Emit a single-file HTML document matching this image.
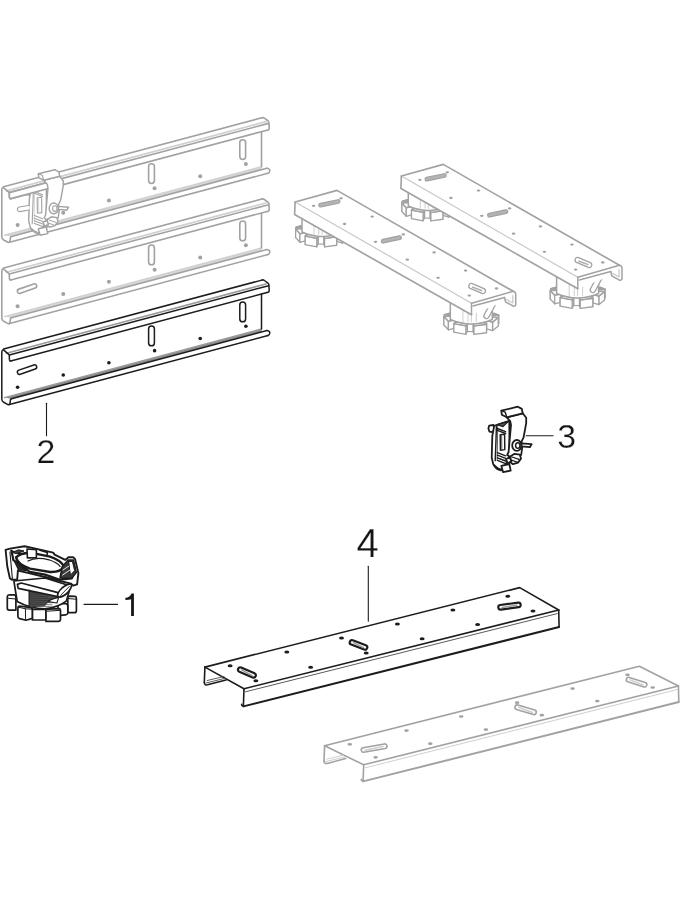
<!DOCTYPE html>
<html><head><meta charset="utf-8"><style>
html,body{margin:0;padding:0;background:#fff;} body{position:relative;width:680px;height:900px;overflow:hidden;}
svg{display:block;}
</style></head><body>
<svg width="680" height="900" viewBox="0 0 680 900" stroke-linejoin="round" stroke-linecap="round">
<rect width="680" height="900" fill="#fff"/>
<line x1="3.6" y1="349.04" x2="261.8" y2="280.1" stroke="#1c1c1c" stroke-width="1.5" stroke-linecap="round"/>
<line x1="6.5" y1="353.26" x2="266" y2="283.98" stroke="#9a9a9a" stroke-width="1.6500000000000001" stroke-linecap="round"/>
<line x1="9.3" y1="354.92" x2="268.6" y2="285.68" stroke="#1c1c1c" stroke-width="1.5" stroke-linecap="round"/>
<line x1="10.8" y1="360.92" x2="267" y2="292.51" stroke="#1c1c1c" stroke-width="1.5" stroke-linecap="round"/>
<polygon points="4.5,397.8 261.5,329.18 261.5,331.98 11.5,398.73" stroke="none" stroke-width="0" fill="#8a8a8a"/>
<line x1="4.5" y1="397.6" x2="261.5" y2="328.98" stroke="#9a9a9a" stroke-width="1.35" stroke-linecap="round"/>
<line x1="11.5" y1="398.73" x2="267" y2="330.51" stroke="#1c1c1c" stroke-width="1.5" stroke-linecap="round"/>
<line x1="9.5" y1="404.56" x2="268" y2="335.54" stroke="#1c1c1c" stroke-width="1.5" stroke-linecap="round"/>
<path d="M10.8,360.92 Q9.5,361.24 9.4,359.24 L9.3,354.92 L3.2,349.6 Q1.8,350.2 1.8,352 L1.8,399 Q1.8,401 3.3,402 L8.4,404.86 Q10,404.56 10.2,402.43 L10.4,399.82 Q10.6,398.73 11.5,398.73" stroke="#1c1c1c" stroke-width="1.5" fill="none" />
<path d="M261.8,280.1 Q263.2,279.5 264.4,280.5 L268.2,283.3 Q269.2,284.3 269,286.68 L269.2,290.51 Q269.2,292.51 267,292.51" stroke="#1c1c1c" stroke-width="1.5" fill="none" />
<line x1="261.5" y1="293.98" x2="261.5" y2="328.98" stroke="#1c1c1c" stroke-width="1.5" />
<path d="M267,330.51 Q270,331.01 269.8,333.03 Q269.6,335.34 268,335.54" stroke="#1c1c1c" stroke-width="1.5" fill="none" />
<ellipse cx="17.6" cy="387.2" rx="1.8" ry="1.8" fill="#1c1c1c"/>
<ellipse cx="63.26" cy="375.01" rx="1.8" ry="1.8" fill="#1c1c1c"/>
<ellipse cx="108.92" cy="362.82" rx="1.8" ry="1.8" fill="#1c1c1c"/>
<ellipse cx="154.58" cy="350.63" rx="1.8" ry="1.8" fill="#1c1c1c"/>
<ellipse cx="200.24" cy="338.44" rx="1.8" ry="1.8" fill="#1c1c1c"/>
<ellipse cx="245.9" cy="326.24" rx="1.8" ry="1.8" fill="#1c1c1c"/>
<rect x="148.6" y="326" width="5.8" height="19.8" rx="2.9" ry="2.9" stroke="#1c1c1c" stroke-width="1.5" fill="none"/>
<rect x="239.8" y="302" width="5.8" height="19.8" rx="2.9" ry="2.9" stroke="#1c1c1c" stroke-width="1.5" fill="none"/>
<path d="M20.32,374.28 L35.22,369.08 A2.2,2.2 0 0 0 33.78,364.92 L18.88,370.12 A2.2,2.2 0 0 0 20.32,374.28 Z" stroke="#1c1c1c" stroke-width="1.5" fill="none" />
<line x1="3.6" y1="268.04" x2="261.8" y2="199.1" stroke="#a2a2a2" stroke-width="1.6" stroke-linecap="round"/>
<line x1="6.5" y1="272.26" x2="266" y2="202.98" stroke="#d0d0d0" stroke-width="1.7600000000000002" stroke-linecap="round"/>
<line x1="9.3" y1="273.92" x2="268.6" y2="204.68" stroke="#a2a2a2" stroke-width="1.6" stroke-linecap="round"/>
<line x1="10.8" y1="279.92" x2="267" y2="211.51" stroke="#a2a2a2" stroke-width="1.6" stroke-linecap="round"/>
<polygon points="4.5,316.8 261.5,248.18 261.5,250.98 11.5,317.73" stroke="none" stroke-width="0" fill="#d6d6d6"/>
<line x1="4.5" y1="316.6" x2="261.5" y2="247.98" stroke="#d0d0d0" stroke-width="1.4400000000000002" stroke-linecap="round"/>
<line x1="11.5" y1="317.73" x2="267" y2="249.51" stroke="#a2a2a2" stroke-width="1.6" stroke-linecap="round"/>
<line x1="9.5" y1="323.56" x2="268" y2="254.54" stroke="#a2a2a2" stroke-width="1.6" stroke-linecap="round"/>
<path d="M10.8,279.92 Q9.5,280.24 9.4,278.24 L9.3,273.92 L3.2,268.6 Q1.8,269.2 1.8,271 L1.8,318 Q1.8,320 3.3,321 L8.4,323.86 Q10,323.56 10.2,321.43 L10.4,318.82 Q10.6,317.73 11.5,317.73" stroke="#a2a2a2" stroke-width="1.6" fill="none" />
<path d="M261.8,199.1 Q263.2,198.5 264.4,199.5 L268.2,202.3 Q269.2,203.3 269,205.68 L269.2,209.51 Q269.2,211.51 267,211.51" stroke="#a2a2a2" stroke-width="1.6" fill="none" />
<line x1="261.5" y1="212.98" x2="261.5" y2="247.98" stroke="#a2a2a2" stroke-width="1.6" />
<path d="M267,249.51 Q270,250.01 269.8,252.03 Q269.6,254.34 268,254.54" stroke="#a2a2a2" stroke-width="1.6" fill="none" />
<ellipse cx="17.6" cy="306.2" rx="2" ry="2" fill="#a2a2a2"/>
<ellipse cx="63.26" cy="294.01" rx="2" ry="2" fill="#a2a2a2"/>
<ellipse cx="108.92" cy="281.82" rx="2" ry="2" fill="#a2a2a2"/>
<ellipse cx="154.58" cy="269.63" rx="2" ry="2" fill="#a2a2a2"/>
<ellipse cx="200.24" cy="257.44" rx="2" ry="2" fill="#a2a2a2"/>
<ellipse cx="245.9" cy="245.24" rx="2" ry="2" fill="#a2a2a2"/>
<rect x="148.6" y="245" width="5.8" height="19.8" rx="2.9" ry="2.9" stroke="#a2a2a2" stroke-width="1.6" fill="none"/>
<rect x="239.8" y="221" width="5.8" height="19.8" rx="2.9" ry="2.9" stroke="#a2a2a2" stroke-width="1.6" fill="none"/>
<path d="M20.32,293.28 L35.22,288.08 A2.2,2.2 0 0 0 33.78,283.92 L18.88,289.12 A2.2,2.2 0 0 0 20.32,293.28 Z" stroke="#a2a2a2" stroke-width="1.6" fill="none" />
<line x1="3.6" y1="186.74" x2="261.8" y2="117.8" stroke="#a2a2a2" stroke-width="1.6" stroke-linecap="round"/>
<line x1="6.5" y1="190.96" x2="266" y2="121.68" stroke="#d0d0d0" stroke-width="1.7600000000000002" stroke-linecap="round"/>
<line x1="9.3" y1="192.62" x2="268.6" y2="123.38" stroke="#a2a2a2" stroke-width="1.6" stroke-linecap="round"/>
<line x1="10.8" y1="198.62" x2="267" y2="130.21" stroke="#a2a2a2" stroke-width="1.6" stroke-linecap="round"/>
<polygon points="4.5,235.5 261.5,166.88 261.5,169.68 11.5,236.43" stroke="none" stroke-width="0" fill="#d6d6d6"/>
<line x1="4.5" y1="235.3" x2="261.5" y2="166.68" stroke="#d0d0d0" stroke-width="1.4400000000000002" stroke-linecap="round"/>
<line x1="11.5" y1="236.43" x2="267" y2="168.21" stroke="#a2a2a2" stroke-width="1.6" stroke-linecap="round"/>
<line x1="9.5" y1="242.26" x2="268" y2="173.24" stroke="#a2a2a2" stroke-width="1.6" stroke-linecap="round"/>
<path d="M10.8,198.62 Q9.5,198.94 9.4,196.94 L9.3,192.62 L3.2,187.3 Q1.8,187.9 1.8,189.7 L1.8,236.7 Q1.8,238.7 3.3,239.7 L8.4,242.56 Q10,242.26 10.2,240.13 L10.4,237.52 Q10.6,236.43 11.5,236.43" stroke="#a2a2a2" stroke-width="1.6" fill="none" />
<path d="M261.8,117.8 Q263.2,117.2 264.4,118.2 L268.2,121 Q269.2,122 269,124.38 L269.2,128.21 Q269.2,130.21 267,130.21" stroke="#a2a2a2" stroke-width="1.6" fill="none" />
<line x1="261.5" y1="131.68" x2="261.5" y2="166.68" stroke="#a2a2a2" stroke-width="1.6" />
<path d="M267,168.21 Q270,168.71 269.8,170.73 Q269.6,173.04 268,173.24" stroke="#a2a2a2" stroke-width="1.6" fill="none" />
<ellipse cx="17.6" cy="224.9" rx="2" ry="2" fill="#a2a2a2"/>
<ellipse cx="63.26" cy="212.71" rx="2" ry="2" fill="#a2a2a2"/>
<ellipse cx="108.92" cy="200.52" rx="2" ry="2" fill="#a2a2a2"/>
<ellipse cx="154.58" cy="188.33" rx="2" ry="2" fill="#a2a2a2"/>
<ellipse cx="200.24" cy="176.14" rx="2" ry="2" fill="#a2a2a2"/>
<ellipse cx="245.9" cy="163.94" rx="2" ry="2" fill="#a2a2a2"/>
<rect x="148.6" y="163.7" width="5.8" height="19.8" rx="2.9" ry="2.9" stroke="#a2a2a2" stroke-width="1.6" fill="none"/>
<rect x="239.8" y="139.7" width="5.8" height="19.8" rx="2.9" ry="2.9" stroke="#a2a2a2" stroke-width="1.6" fill="none"/>
<polyline points="204.9,667.1 519.7,587.6 558.7,610" stroke="#1c1c1c" stroke-width="1.6" fill="none"/>
<polyline points="204.9,667.1 244,688.8" stroke="#1c1c1c" stroke-width="1.6" fill="none"/>
<polyline points="244,688.8 558.7,610" stroke="#1c1c1c" stroke-width="1.6" fill="none"/>
<polyline points="245.5,691.8 557.2,613.6" stroke="#555" stroke-width="0.96" fill="none"/>
<polyline points="558.7,610 559.1,626.8" stroke="#1c1c1c" stroke-width="1.6" fill="none"/>
<polyline points="244,688.8 243.4,705.6" stroke="#1c1c1c" stroke-width="1.6" fill="none"/>
<polyline points="243.4,706.4 559.1,627" stroke="#1c1c1c" stroke-width="2.0" fill="none"/>
<path d="M243.4,705.7 Q241.5,706 241.6,704.3" stroke="#1c1c1c" stroke-width="1.6" fill="none" />
<polyline points="204.9,667.1 204.3,682.5" stroke="#1c1c1c" stroke-width="1.6" fill="none"/>
<path d="M204.3,682.5 Q204.5,685.5 207.5,684.8 L226,680" stroke="#1c1c1c" stroke-width="1.6" fill="none" />
<polyline points="207.2,680.5 224,676.5" stroke="#555" stroke-width="0.96" fill="none"/>
<polyline points="206,683 225,678.3" stroke="#555" stroke-width="0.96" fill="none"/>
<ellipse cx="230.1" cy="665.7" rx="2.5" ry="1.5" fill="#1c1c1c"/>
<ellipse cx="286.8" cy="652" rx="2.5" ry="1.5" fill="#1c1c1c"/>
<ellipse cx="341.5" cy="637.9" rx="2.5" ry="1.5" fill="#1c1c1c"/>
<ellipse cx="397.4" cy="624.1" rx="2.5" ry="1.5" fill="#1c1c1c"/>
<ellipse cx="452.9" cy="610" rx="2.5" ry="1.5" fill="#1c1c1c"/>
<ellipse cx="507.8" cy="596.2" rx="2.5" ry="1.5" fill="#1c1c1c"/>
<ellipse cx="255.9" cy="680.78" rx="2.5" ry="1.5" fill="#1c1c1c"/>
<ellipse cx="310.6" cy="667.18" rx="2.5" ry="1.5" fill="#1c1c1c"/>
<ellipse cx="366.2" cy="653.08" rx="2.5" ry="1.5" fill="#1c1c1c"/>
<ellipse cx="422.1" cy="638.68" rx="2.5" ry="1.5" fill="#1c1c1c"/>
<ellipse cx="477.6" cy="624.58" rx="2.5" ry="1.5" fill="#1c1c1c"/>
<ellipse cx="533" cy="610.98" rx="2.5" ry="1.5" fill="#1c1c1c"/>
<path d="M239.29,671.71 L252.69,677.51 A2.3,2.3 0 0 0 254.51,673.29 L241.11,667.49 A2.3,2.3 0 0 0 239.29,671.71 Z" stroke="#1c1c1c" stroke-width="2.16" fill="#fff" />
<line x1="241.7" y1="669.8" x2="252.1" y2="675.6" stroke="#999" stroke-width="1.4400000000000002" />
<path d="M351.17,644.55 L364.17,649.55 A2.3,2.3 0 0 0 365.83,645.25 L352.83,640.25 A2.3,2.3 0 0 0 351.17,644.55 Z" stroke="#1c1c1c" stroke-width="2.16" fill="#fff" />
<line x1="353.5" y1="642.6" x2="363.5" y2="647.6" stroke="#999" stroke-width="1.4400000000000002" />
<path d="M500.91,609.58 L518.71,607.18 A2.3,2.3 0 0 0 518.09,602.62 L500.29,605.02 A2.3,2.3 0 0 0 500.91,609.58 Z" stroke="#1c1c1c" stroke-width="2.16" fill="#fff" />
<line x1="502.1" y1="607.5" x2="516.9" y2="605.1" stroke="#999" stroke-width="1.4400000000000002" />
<polyline points="324.6,745.7 639.4,666.2 678.4,686" stroke="#a2a2a2" stroke-width="1.6" fill="none"/>
<polyline points="324.6,745.7 363.7,764.8" stroke="#a2a2a2" stroke-width="1.6" fill="none"/>
<polyline points="363.7,764.8 678.4,686" stroke="#a2a2a2" stroke-width="1.6" fill="none"/>
<polyline points="365.2,767.8 676.9,689.6" stroke="#cccccc" stroke-width="0.96" fill="none"/>
<polyline points="678.4,686 678.8,701.8" stroke="#a2a2a2" stroke-width="1.6" fill="none"/>
<polyline points="363.7,764.8 363.1,780.6" stroke="#a2a2a2" stroke-width="1.6" fill="none"/>
<polyline points="363.1,781.4 678.8,702" stroke="#a2a2a2" stroke-width="2.0" fill="none"/>
<path d="M363.1,780.7 Q361.2,781 361.3,779.3" stroke="#a2a2a2" stroke-width="1.6" fill="none" />
<polyline points="324.6,745.7 324,761.1" stroke="#a2a2a2" stroke-width="1.6" fill="none"/>
<path d="M324,761.1 Q324.2,764.1 327.2,763.4 L345.7,758.6" stroke="#a2a2a2" stroke-width="1.6" fill="none" />
<polyline points="326.9,759.1 343.7,755.1" stroke="#cccccc" stroke-width="0.96" fill="none"/>
<polyline points="325.7,761.6 344.7,756.9" stroke="#cccccc" stroke-width="0.96" fill="none"/>
<ellipse cx="349.8" cy="744.3" rx="2.3" ry="1.35" fill="#a2a2a2"/>
<ellipse cx="406.5" cy="730.6" rx="2.3" ry="1.35" fill="#a2a2a2"/>
<ellipse cx="461.2" cy="716.5" rx="2.3" ry="1.35" fill="#a2a2a2"/>
<ellipse cx="517.1" cy="702.7" rx="2.3" ry="1.35" fill="#a2a2a2"/>
<ellipse cx="572.6" cy="688.6" rx="2.3" ry="1.35" fill="#a2a2a2"/>
<ellipse cx="627.5" cy="674.8" rx="2.3" ry="1.35" fill="#a2a2a2"/>
<ellipse cx="375.6" cy="757.3" rx="2.3" ry="1.35" fill="#a2a2a2"/>
<ellipse cx="430.3" cy="743.7" rx="2.3" ry="1.35" fill="#a2a2a2"/>
<ellipse cx="485.9" cy="729.6" rx="2.3" ry="1.35" fill="#a2a2a2"/>
<ellipse cx="541.8" cy="715.2" rx="2.3" ry="1.35" fill="#a2a2a2"/>
<ellipse cx="597.3" cy="701.1" rx="2.3" ry="1.35" fill="#a2a2a2"/>
<ellipse cx="652.7" cy="687.5" rx="2.3" ry="1.35" fill="#a2a2a2"/>
<path d="M363.8,752.26 L385.2,748.46 A2.3,2.3 0 0 0 384.4,743.94 L363,747.74 A2.3,2.3 0 0 0 363.8,752.26 Z" stroke="#a2a2a2" stroke-width="1.6" fill="#fff" />
<line x1="364.9" y1="750.2" x2="383.3" y2="746.4" stroke="#cccccc" stroke-width="1.4400000000000002" />
<path d="M516.53,709.4 L533.33,714.5 A2.3,2.3 0 0 0 534.67,710.1 L517.87,705 A2.3,2.3 0 0 0 516.53,709.4 Z" stroke="#a2a2a2" stroke-width="1.6" fill="#fff" />
<line x1="518.7" y1="707.4" x2="532.5" y2="712.5" stroke="#cccccc" stroke-width="1.4400000000000002" />
<path d="M627.9,681.79 L643.9,686.89 A2.3,2.3 0 0 0 645.3,682.51 L629.3,677.41 A2.3,2.3 0 0 0 627.9,681.79 Z" stroke="#a2a2a2" stroke-width="1.6" fill="#fff" />
<line x1="630.1" y1="679.8" x2="643.1" y2="684.9" stroke="#cccccc" stroke-width="1.4400000000000002" />
<polygon points="425.7,198.34 426.42,199.37 426.42,207.87 425.7,206.84" stroke="#a2a2a2" stroke-width="1.275" fill="#fff"/>
<polygon points="432.09,199.41 433.56,198.4 433.56,206.9 432.09,207.91" stroke="#a2a2a2" stroke-width="1.275" fill="#fff"/>
<polygon points="417.76,199.79 413.66,198.94 413.66,207.44 417.76,208.29" stroke="#a2a2a2" stroke-width="1.275" fill="#fff"/>
<polygon points="426.42,199.37 432.09,199.41 432.09,207.91 426.42,207.87" stroke="#a2a2a2" stroke-width="1.275" fill="#fff"/>
<polygon points="445.11,199.16 440.4,199.95 440.4,208.45 445.11,207.66" stroke="#a2a2a2" stroke-width="1.275" fill="#fff"/>
<polygon points="407.81,199.67 413.55,200.32 413.55,208.82 407.81,208.17" stroke="#a2a2a2" stroke-width="1.275" fill="#fff"/>
<polygon points="413.55,200.32 417.76,199.79 417.76,208.29 413.55,208.82" stroke="#a2a2a2" stroke-width="1.275" fill="#fff"/>
<polygon points="440.4,199.95 444.2,200.54 444.2,209.04 440.4,208.45" stroke="#a2a2a2" stroke-width="1.275" fill="#fff"/>
<polygon points="444.2,200.54 450.39,199.97 450.39,208.47 444.2,209.04" stroke="#a2a2a2" stroke-width="1.275" fill="#fff"/>
<polygon points="402.33,201.27 407.81,199.67 407.81,208.17 402.33,209.77" stroke="#a2a2a2" stroke-width="1.275" fill="#fff"/>
<polygon points="450.39,199.97 454.67,201.64 454.67,210.14 450.39,208.47" stroke="#a2a2a2" stroke-width="1.275" fill="#fff"/>
<polygon points="409.6,201.47 402.33,201.27 402.33,209.77 409.6,209.97" stroke="#a2a2a2" stroke-width="1.275" fill="#fff"/>
<polygon points="454.67,201.64 447.29,201.74 447.29,210.24 454.67,210.14" stroke="#a2a2a2" stroke-width="1.275" fill="#fff"/>
<polygon points="409.31,202.74 409.6,201.47 409.6,209.97 409.31,211.24" stroke="#a2a2a2" stroke-width="1.275" fill="#fff"/>
<polygon points="447.29,201.74 447,203.5 447,212 447.29,210.24" stroke="#a2a2a2" stroke-width="1.275" fill="#fff"/>
<polygon points="401.93,203.03 409.31,202.74 409.31,211.24 401.93,211.53" stroke="#a2a2a2" stroke-width="1.275" fill="#fff"/>
<polygon points="447,203.5 454.27,204.09 454.27,212.59 447,212" stroke="#a2a2a2" stroke-width="1.275" fill="#fff"/>
<polygon points="406.21,207.8 401.93,203.03 401.93,211.53 406.21,216.3" stroke="#a2a2a2" stroke-width="1.275" fill="#fff"/>
<polygon points="454.27,204.09 448.79,208.66 448.79,217.16 454.27,212.59" stroke="#a2a2a2" stroke-width="1.275" fill="#fff"/>
<polygon points="412.4,206.18 406.21,207.8 406.21,216.3 412.4,214.68" stroke="#a2a2a2" stroke-width="1.275" fill="#fff"/>
<polygon points="416.2,207.85 412.4,206.18 412.4,214.68 416.2,216.35" stroke="#a2a2a2" stroke-width="1.275" fill="#fff"/>
<polygon points="443.05,206.79 438.84,208.3 438.84,216.8 443.05,215.29" stroke="#a2a2a2" stroke-width="1.275" fill="#fff"/>
<polygon points="448.79,208.66 443.05,206.79 443.05,215.29 448.79,217.16" stroke="#a2a2a2" stroke-width="1.275" fill="#fff"/>
<polygon points="411.49,210.12 416.2,207.85 416.2,216.35 411.49,218.62" stroke="#a2a2a2" stroke-width="1.275" fill="#fff"/>
<polygon points="430.18,209.52 424.51,209.41 424.51,217.91 430.18,218.02" stroke="#a2a2a2" stroke-width="1.275" fill="#fff"/>
<polygon points="438.84,208.3 442.94,210.75 442.94,219.25 438.84,216.8" stroke="#a2a2a2" stroke-width="1.275" fill="#fff"/>
<polygon points="424.51,209.41 423.04,212.29 423.04,220.79 424.51,217.91" stroke="#a2a2a2" stroke-width="1.275" fill="#fff"/>
<polygon points="430.9,212.45 430.18,209.52 430.18,218.02 430.9,220.95" stroke="#a2a2a2" stroke-width="1.275" fill="#fff"/>
<polygon points="423.04,212.29 411.49,210.12 411.49,218.62 423.04,220.79" stroke="#a2a2a2" stroke-width="1.275" fill="#fff"/>
<polygon points="442.94,210.75 430.9,212.45 430.9,220.95 442.94,219.25" stroke="#a2a2a2" stroke-width="1.275" fill="#fff"/>
<polygon points="454.27,204.09 448.79,208.66 443.05,206.79 438.84,208.3 442.94,210.75 430.9,212.45 430.18,209.52 424.51,209.41 423.04,212.29 411.49,210.12 416.2,207.85 412.4,206.18 406.21,207.8 401.93,203.03 409.31,202.74 409.6,201.47 402.33,201.27 407.81,199.67 413.55,200.32 417.76,199.79 413.66,198.94 425.7,198.34 426.42,199.37 432.09,199.41 433.56,198.4 445.11,199.16 440.4,199.95 444.2,200.54 450.39,199.97 454.67,201.64 447.29,201.74 447,203.5" stroke="#a2a2a2" stroke-width="1.5" fill="#fff"/>
<path d="M408.3,188 L408.3,206 Q428.3,215.12 448.3,206 L448.3,188 Z" stroke="#a2a2a2" stroke-width="1.5" fill="#fff"/>
<line x1="420.3" y1="191" x2="420.3" y2="208.3" stroke="#c8c8c8" stroke-width="0.9" />
<line x1="425.1" y1="191" x2="425.1" y2="208.3" stroke="#c8c8c8" stroke-width="0.9" />
<line x1="428.3" y1="191" x2="428.3" y2="208.3" stroke="#c8c8c8" stroke-width="0.9" />
<line x1="433.1" y1="191" x2="433.1" y2="208.3" stroke="#c8c8c8" stroke-width="0.9" />
<polygon points="574.9,285.84 575.65,286.87 575.65,295.37 574.9,294.34" stroke="#a2a2a2" stroke-width="1.275" fill="#fff"/>
<polygon points="581.53,286.91 583.06,285.9 583.06,294.4 581.53,295.41" stroke="#a2a2a2" stroke-width="1.275" fill="#fff"/>
<polygon points="566.66,287.29 562.41,286.44 562.41,294.94 566.66,295.79" stroke="#a2a2a2" stroke-width="1.275" fill="#fff"/>
<polygon points="575.65,286.87 581.53,286.91 581.53,295.41 575.65,295.37" stroke="#a2a2a2" stroke-width="1.275" fill="#fff"/>
<polygon points="595.04,286.66 590.16,287.45 590.16,295.95 595.04,295.16" stroke="#a2a2a2" stroke-width="1.275" fill="#fff"/>
<polygon points="556.34,287.17 562.29,287.82 562.29,296.32 556.34,295.67" stroke="#a2a2a2" stroke-width="1.275" fill="#fff"/>
<polygon points="562.29,287.82 566.66,287.29 566.66,295.79 562.29,296.32" stroke="#a2a2a2" stroke-width="1.275" fill="#fff"/>
<polygon points="590.16,287.45 594.1,288.04 594.1,296.54 590.16,295.95" stroke="#a2a2a2" stroke-width="1.275" fill="#fff"/>
<polygon points="594.1,288.04 600.52,287.47 600.52,295.97 594.1,296.54" stroke="#a2a2a2" stroke-width="1.275" fill="#fff"/>
<polygon points="550.65,288.77 556.34,287.17 556.34,295.67 550.65,297.27" stroke="#a2a2a2" stroke-width="1.275" fill="#fff"/>
<polygon points="600.52,287.47 604.97,289.14 604.97,297.64 600.52,295.97" stroke="#a2a2a2" stroke-width="1.275" fill="#fff"/>
<polygon points="558.19,288.97 550.65,288.77 550.65,297.27 558.19,297.47" stroke="#a2a2a2" stroke-width="1.275" fill="#fff"/>
<polygon points="604.97,289.14 597.3,289.24 597.3,297.74 604.97,297.64" stroke="#a2a2a2" stroke-width="1.275" fill="#fff"/>
<polygon points="557.9,290.24 558.19,288.97 558.19,297.47 557.9,298.74" stroke="#a2a2a2" stroke-width="1.275" fill="#fff"/>
<polygon points="597.3,289.24 597.01,291 597.01,299.5 597.3,297.74" stroke="#a2a2a2" stroke-width="1.275" fill="#fff"/>
<polygon points="550.23,290.53 557.9,290.24 557.9,298.74 550.23,299.03" stroke="#a2a2a2" stroke-width="1.275" fill="#fff"/>
<polygon points="597.01,291 604.55,291.59 604.55,300.09 597.01,299.5" stroke="#a2a2a2" stroke-width="1.275" fill="#fff"/>
<polygon points="554.68,295.3 550.23,290.53 550.23,299.03 554.68,303.8" stroke="#a2a2a2" stroke-width="1.275" fill="#fff"/>
<polygon points="604.55,291.59 598.86,296.16 598.86,304.66 604.55,300.09" stroke="#a2a2a2" stroke-width="1.275" fill="#fff"/>
<polygon points="561.1,293.68 554.68,295.3 554.68,303.8 561.1,302.18" stroke="#a2a2a2" stroke-width="1.275" fill="#fff"/>
<polygon points="565.04,295.35 561.1,293.68 561.1,302.18 565.04,303.85" stroke="#a2a2a2" stroke-width="1.275" fill="#fff"/>
<polygon points="592.91,294.29 588.54,295.8 588.54,304.3 592.91,302.79" stroke="#a2a2a2" stroke-width="1.275" fill="#fff"/>
<polygon points="598.86,296.16 592.91,294.29 592.91,302.79 598.86,304.66" stroke="#a2a2a2" stroke-width="1.275" fill="#fff"/>
<polygon points="560.16,297.62 565.04,295.35 565.04,303.85 560.16,306.12" stroke="#a2a2a2" stroke-width="1.275" fill="#fff"/>
<polygon points="579.55,297.02 573.67,296.91 573.67,305.41 579.55,305.52" stroke="#a2a2a2" stroke-width="1.275" fill="#fff"/>
<polygon points="588.54,295.8 592.79,298.25 592.79,306.75 588.54,304.3" stroke="#a2a2a2" stroke-width="1.275" fill="#fff"/>
<polygon points="573.67,296.91 572.14,299.79 572.14,308.29 573.67,305.41" stroke="#a2a2a2" stroke-width="1.275" fill="#fff"/>
<polygon points="580.3,299.95 579.55,297.02 579.55,305.52 580.3,308.45" stroke="#a2a2a2" stroke-width="1.275" fill="#fff"/>
<polygon points="572.14,299.79 560.16,297.62 560.16,306.12 572.14,308.29" stroke="#a2a2a2" stroke-width="1.275" fill="#fff"/>
<polygon points="592.79,298.25 580.3,299.95 580.3,308.45 592.79,306.75" stroke="#a2a2a2" stroke-width="1.275" fill="#fff"/>
<polygon points="604.55,291.59 598.86,296.16 592.91,294.29 588.54,295.8 592.79,298.25 580.3,299.95 579.55,297.02 573.67,296.91 572.14,299.79 560.16,297.62 565.04,295.35 561.1,293.68 554.68,295.3 550.23,290.53 557.9,290.24 558.19,288.97 550.65,288.77 556.34,287.17 562.29,287.82 566.66,287.29 562.41,286.44 574.9,285.84 575.65,286.87 581.53,286.91 583.06,285.9 595.04,286.66 590.16,287.45 594.1,288.04 600.52,287.47 604.97,289.14 597.3,289.24 597.01,291" stroke="#a2a2a2" stroke-width="1.5" fill="#fff"/>
<path d="M556.6,274 L556.6,293.5 Q577.6,302.62 598.6,293.5 L598.6,274 Z" stroke="#a2a2a2" stroke-width="1.5" fill="#fff"/>
<line x1="569.2" y1="277" x2="569.2" y2="295.8" stroke="#c8c8c8" stroke-width="0.9" />
<line x1="574.24" y1="277" x2="574.24" y2="295.8" stroke="#c8c8c8" stroke-width="0.9" />
<line x1="577.6" y1="277" x2="577.6" y2="295.8" stroke="#c8c8c8" stroke-width="0.9" />
<line x1="582.64" y1="277" x2="582.64" y2="295.8" stroke="#c8c8c8" stroke-width="0.9" />
<path d="M595.09,291.23 L602.09,278.23 A2.6,2.6 0 0 0 597.51,275.77 L590.51,288.77 A2.6,2.6 0 0 0 595.09,291.23 Z" stroke="#a2a2a2" stroke-width="1.35" fill="#fff" />
<polygon points="401.4,176 443.3,164.4 619.5,265.3 622,267.6 622,278.8 619.9,280.4 611.3,275.5 577.8,288.7 400.9,188.5" stroke="none" stroke-width="0" fill="#fff"/>
<polyline points="401.4,176 443.3,164.4 619.5,265.3" stroke="#a2a2a2" stroke-width="1.6500000000000001" fill="none"/>
<polyline points="401.4,176 577.8,277.2" stroke="#c6c6c6" stroke-width="1.125" fill="none"/>
<polyline points="401.4,176 400.9,188.5 577.8,288.7" stroke="#a2a2a2" stroke-width="1.6500000000000001" fill="none"/>
<polyline points="577.8,277.2 577.8,288.7" stroke="#a2a2a2" stroke-width="1.5" fill="none"/>
<polyline points="577.8,277.2 619.5,265.3" stroke="#a2a2a2" stroke-width="1.5" fill="none"/>
<path d="M619.5,265.3 Q622,265.8 622,268.5 L622,278.4 Q622,280.5 619.5,280.2 L611.8,275.8 L610.8,271.5" stroke="#a2a2a2" stroke-width="1.5" fill="none" />
<path d="M619.1,269.5 L619.1,277 L612.8,273.5" stroke="#c6c6c6" stroke-width="1.2000000000000002" fill="none" />
<polyline points="579.3,280 610.8,271.5" stroke="#a2a2a2" stroke-width="1.35" fill="none"/>
<ellipse cx="447.3" cy="172.3" rx="1.8" ry="1.15" fill="#a2a2a2"/>
<ellipse cx="478.5" cy="190.6" rx="1.8" ry="1.15" fill="#a2a2a2"/>
<ellipse cx="509.6" cy="208.4" rx="1.8" ry="1.15" fill="#a2a2a2"/>
<ellipse cx="540.4" cy="226.4" rx="1.8" ry="1.15" fill="#a2a2a2"/>
<ellipse cx="571.9" cy="244.6" rx="1.8" ry="1.15" fill="#a2a2a2"/>
<ellipse cx="602.8" cy="262.5" rx="1.8" ry="1.15" fill="#a2a2a2"/>
<ellipse cx="419.9" cy="179.8" rx="1.8" ry="1.15" fill="#a2a2a2"/>
<ellipse cx="450.9" cy="198" rx="1.8" ry="1.15" fill="#a2a2a2"/>
<ellipse cx="481.8" cy="215.8" rx="1.8" ry="1.15" fill="#a2a2a2"/>
<ellipse cx="513.6" cy="233.7" rx="1.8" ry="1.15" fill="#a2a2a2"/>
<ellipse cx="544.4" cy="251.8" rx="1.8" ry="1.15" fill="#a2a2a2"/>
<ellipse cx="575.6" cy="269.6" rx="1.8" ry="1.15" fill="#a2a2a2"/>
<path d="M427.17,180.96 L444.87,177.26 A1.8,1.8 0 0 0 444.13,173.74 L426.43,177.44 A1.8,1.8 0 0 0 427.17,180.96 Z" stroke="#a2a2a2" stroke-width="1.2000000000000002" fill="#b4b4b4" />
<path d="M489.89,216.96 L506.29,213.36 A1.8,1.8 0 0 0 505.51,209.84 L489.11,213.44 A1.8,1.8 0 0 0 489.89,216.96 Z" stroke="#a2a2a2" stroke-width="1.2000000000000002" fill="#b4b4b4" />
<path d="M576.49,262.39 L588.29,267.39 A2.6,2.6 0 0 0 590.31,262.61 L578.51,257.61 A2.6,2.6 0 0 0 576.49,262.39 Z" stroke="#a2a2a2" stroke-width="1.275" fill="#fff" />
<line x1="579" y1="261.2" x2="587.8" y2="264.6" stroke="#b0b0b0" stroke-width="1.6" />
<polygon points="319.4,224.34 320.12,225.37 320.12,233.87 319.4,232.84" stroke="#a2a2a2" stroke-width="1.275" fill="#fff"/>
<polygon points="325.79,225.41 327.26,224.4 327.26,232.9 325.79,233.91" stroke="#a2a2a2" stroke-width="1.275" fill="#fff"/>
<polygon points="311.46,225.79 307.36,224.94 307.36,233.44 311.46,234.29" stroke="#a2a2a2" stroke-width="1.275" fill="#fff"/>
<polygon points="320.12,225.37 325.79,225.41 325.79,233.91 320.12,233.87" stroke="#a2a2a2" stroke-width="1.275" fill="#fff"/>
<polygon points="338.81,225.16 334.1,225.95 334.1,234.45 338.81,233.66" stroke="#a2a2a2" stroke-width="1.275" fill="#fff"/>
<polygon points="301.51,225.67 307.25,226.32 307.25,234.82 301.51,234.17" stroke="#a2a2a2" stroke-width="1.275" fill="#fff"/>
<polygon points="307.25,226.32 311.46,225.79 311.46,234.29 307.25,234.82" stroke="#a2a2a2" stroke-width="1.275" fill="#fff"/>
<polygon points="334.1,225.95 337.9,226.54 337.9,235.04 334.1,234.45" stroke="#a2a2a2" stroke-width="1.275" fill="#fff"/>
<polygon points="337.9,226.54 344.09,225.97 344.09,234.47 337.9,235.04" stroke="#a2a2a2" stroke-width="1.275" fill="#fff"/>
<polygon points="296.03,227.27 301.51,225.67 301.51,234.17 296.03,235.77" stroke="#a2a2a2" stroke-width="1.275" fill="#fff"/>
<polygon points="344.09,225.97 348.37,227.64 348.37,236.14 344.09,234.47" stroke="#a2a2a2" stroke-width="1.275" fill="#fff"/>
<polygon points="303.3,227.47 296.03,227.27 296.03,235.77 303.3,235.97" stroke="#a2a2a2" stroke-width="1.275" fill="#fff"/>
<polygon points="348.37,227.64 340.99,227.74 340.99,236.24 348.37,236.14" stroke="#a2a2a2" stroke-width="1.275" fill="#fff"/>
<polygon points="303.01,228.74 303.3,227.47 303.3,235.97 303.01,237.24" stroke="#a2a2a2" stroke-width="1.275" fill="#fff"/>
<polygon points="340.99,227.74 340.7,229.5 340.7,238 340.99,236.24" stroke="#a2a2a2" stroke-width="1.275" fill="#fff"/>
<polygon points="295.63,229.03 303.01,228.74 303.01,237.24 295.63,237.53" stroke="#a2a2a2" stroke-width="1.275" fill="#fff"/>
<polygon points="340.7,229.5 347.97,230.09 347.97,238.59 340.7,238" stroke="#a2a2a2" stroke-width="1.275" fill="#fff"/>
<polygon points="299.91,233.8 295.63,229.03 295.63,237.53 299.91,242.3" stroke="#a2a2a2" stroke-width="1.275" fill="#fff"/>
<polygon points="347.97,230.09 342.49,234.66 342.49,243.16 347.97,238.59" stroke="#a2a2a2" stroke-width="1.275" fill="#fff"/>
<polygon points="306.1,232.18 299.91,233.8 299.91,242.3 306.1,240.68" stroke="#a2a2a2" stroke-width="1.275" fill="#fff"/>
<polygon points="309.9,233.85 306.1,232.18 306.1,240.68 309.9,242.35" stroke="#a2a2a2" stroke-width="1.275" fill="#fff"/>
<polygon points="336.75,232.79 332.54,234.3 332.54,242.8 336.75,241.29" stroke="#a2a2a2" stroke-width="1.275" fill="#fff"/>
<polygon points="342.49,234.66 336.75,232.79 336.75,241.29 342.49,243.16" stroke="#a2a2a2" stroke-width="1.275" fill="#fff"/>
<polygon points="305.19,236.12 309.9,233.85 309.9,242.35 305.19,244.62" stroke="#a2a2a2" stroke-width="1.275" fill="#fff"/>
<polygon points="323.88,235.52 318.21,235.41 318.21,243.91 323.88,244.02" stroke="#a2a2a2" stroke-width="1.275" fill="#fff"/>
<polygon points="332.54,234.3 336.64,236.75 336.64,245.25 332.54,242.8" stroke="#a2a2a2" stroke-width="1.275" fill="#fff"/>
<polygon points="318.21,235.41 316.74,238.29 316.74,246.79 318.21,243.91" stroke="#a2a2a2" stroke-width="1.275" fill="#fff"/>
<polygon points="324.6,238.45 323.88,235.52 323.88,244.02 324.6,246.95" stroke="#a2a2a2" stroke-width="1.275" fill="#fff"/>
<polygon points="316.74,238.29 305.19,236.12 305.19,244.62 316.74,246.79" stroke="#a2a2a2" stroke-width="1.275" fill="#fff"/>
<polygon points="336.64,236.75 324.6,238.45 324.6,246.95 336.64,245.25" stroke="#a2a2a2" stroke-width="1.275" fill="#fff"/>
<polygon points="347.97,230.09 342.49,234.66 336.75,232.79 332.54,234.3 336.64,236.75 324.6,238.45 323.88,235.52 318.21,235.41 316.74,238.29 305.19,236.12 309.9,233.85 306.1,232.18 299.91,233.8 295.63,229.03 303.01,228.74 303.3,227.47 296.03,227.27 301.51,225.67 307.25,226.32 311.46,225.79 307.36,224.94 319.4,224.34 320.12,225.37 325.79,225.41 327.26,224.4 338.81,225.16 334.1,225.95 337.9,226.54 344.09,225.97 348.37,227.64 340.99,227.74 340.7,229.5" stroke="#a2a2a2" stroke-width="1.5" fill="#fff"/>
<path d="M302,214 L302,232 Q322,241.12 342,232 L342,214 Z" stroke="#a2a2a2" stroke-width="1.5" fill="#fff"/>
<line x1="314" y1="217" x2="314" y2="234.3" stroke="#c8c8c8" stroke-width="0.9" />
<line x1="318.8" y1="217" x2="318.8" y2="234.3" stroke="#c8c8c8" stroke-width="0.9" />
<line x1="322" y1="217" x2="322" y2="234.3" stroke="#c8c8c8" stroke-width="0.9" />
<line x1="326.8" y1="217" x2="326.8" y2="234.3" stroke="#c8c8c8" stroke-width="0.9" />
<polygon points="468.6,311.84 469.35,312.87 469.35,321.37 468.6,320.34" stroke="#a2a2a2" stroke-width="1.275" fill="#fff"/>
<polygon points="475.23,312.91 476.76,311.9 476.76,320.4 475.23,321.41" stroke="#a2a2a2" stroke-width="1.275" fill="#fff"/>
<polygon points="460.36,313.29 456.11,312.44 456.11,320.94 460.36,321.79" stroke="#a2a2a2" stroke-width="1.275" fill="#fff"/>
<polygon points="469.35,312.87 475.23,312.91 475.23,321.41 469.35,321.37" stroke="#a2a2a2" stroke-width="1.275" fill="#fff"/>
<polygon points="488.74,312.66 483.86,313.45 483.86,321.95 488.74,321.16" stroke="#a2a2a2" stroke-width="1.275" fill="#fff"/>
<polygon points="450.04,313.17 455.99,313.82 455.99,322.32 450.04,321.67" stroke="#a2a2a2" stroke-width="1.275" fill="#fff"/>
<polygon points="455.99,313.82 460.36,313.29 460.36,321.79 455.99,322.32" stroke="#a2a2a2" stroke-width="1.275" fill="#fff"/>
<polygon points="483.86,313.45 487.8,314.04 487.8,322.54 483.86,321.95" stroke="#a2a2a2" stroke-width="1.275" fill="#fff"/>
<polygon points="487.8,314.04 494.22,313.47 494.22,321.97 487.8,322.54" stroke="#a2a2a2" stroke-width="1.275" fill="#fff"/>
<polygon points="444.35,314.77 450.04,313.17 450.04,321.67 444.35,323.27" stroke="#a2a2a2" stroke-width="1.275" fill="#fff"/>
<polygon points="494.22,313.47 498.67,315.14 498.67,323.64 494.22,321.97" stroke="#a2a2a2" stroke-width="1.275" fill="#fff"/>
<polygon points="451.89,314.97 444.35,314.77 444.35,323.27 451.89,323.47" stroke="#a2a2a2" stroke-width="1.275" fill="#fff"/>
<polygon points="498.67,315.14 491,315.24 491,323.74 498.67,323.64" stroke="#a2a2a2" stroke-width="1.275" fill="#fff"/>
<polygon points="451.6,316.24 451.89,314.97 451.89,323.47 451.6,324.74" stroke="#a2a2a2" stroke-width="1.275" fill="#fff"/>
<polygon points="491,315.24 490.71,317 490.71,325.5 491,323.74" stroke="#a2a2a2" stroke-width="1.275" fill="#fff"/>
<polygon points="443.93,316.53 451.6,316.24 451.6,324.74 443.93,325.03" stroke="#a2a2a2" stroke-width="1.275" fill="#fff"/>
<polygon points="490.71,317 498.25,317.59 498.25,326.09 490.71,325.5" stroke="#a2a2a2" stroke-width="1.275" fill="#fff"/>
<polygon points="448.38,321.3 443.93,316.53 443.93,325.03 448.38,329.8" stroke="#a2a2a2" stroke-width="1.275" fill="#fff"/>
<polygon points="498.25,317.59 492.56,322.16 492.56,330.66 498.25,326.09" stroke="#a2a2a2" stroke-width="1.275" fill="#fff"/>
<polygon points="454.8,319.68 448.38,321.3 448.38,329.8 454.8,328.18" stroke="#a2a2a2" stroke-width="1.275" fill="#fff"/>
<polygon points="458.74,321.35 454.8,319.68 454.8,328.18 458.74,329.85" stroke="#a2a2a2" stroke-width="1.275" fill="#fff"/>
<polygon points="486.61,320.29 482.24,321.8 482.24,330.3 486.61,328.79" stroke="#a2a2a2" stroke-width="1.275" fill="#fff"/>
<polygon points="492.56,322.16 486.61,320.29 486.61,328.79 492.56,330.66" stroke="#a2a2a2" stroke-width="1.275" fill="#fff"/>
<polygon points="453.86,323.62 458.74,321.35 458.74,329.85 453.86,332.12" stroke="#a2a2a2" stroke-width="1.275" fill="#fff"/>
<polygon points="473.25,323.02 467.37,322.91 467.37,331.41 473.25,331.52" stroke="#a2a2a2" stroke-width="1.275" fill="#fff"/>
<polygon points="482.24,321.8 486.49,324.25 486.49,332.75 482.24,330.3" stroke="#a2a2a2" stroke-width="1.275" fill="#fff"/>
<polygon points="467.37,322.91 465.84,325.79 465.84,334.29 467.37,331.41" stroke="#a2a2a2" stroke-width="1.275" fill="#fff"/>
<polygon points="474,325.95 473.25,323.02 473.25,331.52 474,334.45" stroke="#a2a2a2" stroke-width="1.275" fill="#fff"/>
<polygon points="465.84,325.79 453.86,323.62 453.86,332.12 465.84,334.29" stroke="#a2a2a2" stroke-width="1.275" fill="#fff"/>
<polygon points="486.49,324.25 474,325.95 474,334.45 486.49,332.75" stroke="#a2a2a2" stroke-width="1.275" fill="#fff"/>
<polygon points="498.25,317.59 492.56,322.16 486.61,320.29 482.24,321.8 486.49,324.25 474,325.95 473.25,323.02 467.37,322.91 465.84,325.79 453.86,323.62 458.74,321.35 454.8,319.68 448.38,321.3 443.93,316.53 451.6,316.24 451.89,314.97 444.35,314.77 450.04,313.17 455.99,313.82 460.36,313.29 456.11,312.44 468.6,311.84 469.35,312.87 475.23,312.91 476.76,311.9 488.74,312.66 483.86,313.45 487.8,314.04 494.22,313.47 498.67,315.14 491,315.24 490.71,317" stroke="#a2a2a2" stroke-width="1.5" fill="#fff"/>
<path d="M450.3,300 L450.3,319.5 Q471.3,328.62 492.3,319.5 L492.3,300 Z" stroke="#a2a2a2" stroke-width="1.5" fill="#fff"/>
<line x1="462.9" y1="303" x2="462.9" y2="321.8" stroke="#c8c8c8" stroke-width="0.9" />
<line x1="467.94" y1="303" x2="467.94" y2="321.8" stroke="#c8c8c8" stroke-width="0.9" />
<line x1="471.3" y1="303" x2="471.3" y2="321.8" stroke="#c8c8c8" stroke-width="0.9" />
<line x1="476.34" y1="303" x2="476.34" y2="321.8" stroke="#c8c8c8" stroke-width="0.9" />
<path d="M488.79,317.23 L495.79,304.23 A2.6,2.6 0 0 0 491.21,301.77 L484.21,314.77 A2.6,2.6 0 0 0 488.79,317.23 Z" stroke="#a2a2a2" stroke-width="1.35" fill="#fff" />
<polygon points="295.1,202 337,190.4 513.2,291.3 515.7,293.6 515.7,304.8 513.6,306.4 505,301.5 471.5,314.7 294.6,214.5" stroke="none" stroke-width="0" fill="#fff"/>
<polyline points="295.1,202 337,190.4 513.2,291.3" stroke="#a2a2a2" stroke-width="1.6500000000000001" fill="none"/>
<polyline points="295.1,202 471.5,303.2" stroke="#c6c6c6" stroke-width="1.125" fill="none"/>
<polyline points="295.1,202 294.6,214.5 471.5,314.7" stroke="#a2a2a2" stroke-width="1.6500000000000001" fill="none"/>
<polyline points="471.5,303.2 471.5,314.7" stroke="#a2a2a2" stroke-width="1.5" fill="none"/>
<polyline points="471.5,303.2 513.2,291.3" stroke="#a2a2a2" stroke-width="1.5" fill="none"/>
<path d="M513.2,291.3 Q515.7,291.8 515.7,294.5 L515.7,304.4 Q515.7,306.5 513.2,306.2 L505.5,301.8 L504.5,297.5" stroke="#a2a2a2" stroke-width="1.5" fill="none" />
<path d="M512.8,295.5 L512.8,303 L506.5,299.5" stroke="#c6c6c6" stroke-width="1.2000000000000002" fill="none" />
<polyline points="473,306 504.5,297.5" stroke="#a2a2a2" stroke-width="1.35" fill="none"/>
<ellipse cx="341" cy="198.3" rx="1.8" ry="1.15" fill="#a2a2a2"/>
<ellipse cx="372.2" cy="216.6" rx="1.8" ry="1.15" fill="#a2a2a2"/>
<ellipse cx="403.3" cy="234.4" rx="1.8" ry="1.15" fill="#a2a2a2"/>
<ellipse cx="434.1" cy="252.4" rx="1.8" ry="1.15" fill="#a2a2a2"/>
<ellipse cx="465.6" cy="270.6" rx="1.8" ry="1.15" fill="#a2a2a2"/>
<ellipse cx="496.5" cy="288.5" rx="1.8" ry="1.15" fill="#a2a2a2"/>
<ellipse cx="313.6" cy="205.8" rx="1.8" ry="1.15" fill="#a2a2a2"/>
<ellipse cx="344.6" cy="224" rx="1.8" ry="1.15" fill="#a2a2a2"/>
<ellipse cx="375.5" cy="241.8" rx="1.8" ry="1.15" fill="#a2a2a2"/>
<ellipse cx="407.3" cy="259.7" rx="1.8" ry="1.15" fill="#a2a2a2"/>
<ellipse cx="438.1" cy="277.8" rx="1.8" ry="1.15" fill="#a2a2a2"/>
<ellipse cx="469.3" cy="295.6" rx="1.8" ry="1.15" fill="#a2a2a2"/>
<path d="M320.87,206.96 L338.57,203.26 A1.8,1.8 0 0 0 337.83,199.74 L320.13,203.44 A1.8,1.8 0 0 0 320.87,206.96 Z" stroke="#a2a2a2" stroke-width="1.2000000000000002" fill="#b4b4b4" />
<path d="M383.59,242.96 L399.99,239.36 A1.8,1.8 0 0 0 399.21,235.84 L382.81,239.44 A1.8,1.8 0 0 0 383.59,242.96 Z" stroke="#a2a2a2" stroke-width="1.2000000000000002" fill="#b4b4b4" />
<path d="M470.19,288.39 L481.99,293.39 A2.6,2.6 0 0 0 484.01,288.61 L472.21,283.61 A2.6,2.6 0 0 0 470.19,288.39 Z" stroke="#a2a2a2" stroke-width="1.275" fill="#fff" />
<line x1="472.7" y1="287.2" x2="481.5" y2="290.6" stroke="#b0b0b0" stroke-width="1.6" />
<g transform="translate(0,0)" stroke="#1c1c1c" stroke-width="1.8" fill="#fff" stroke-linejoin="round" stroke-linecap="round">
<path d="M489.2,425.6 L493.4,425 L494.6,429 L492.6,432.2 L489.4,431.6 L488.4,428.4 Z"/>
<path d="M494.2,425.8 L509.3,420.9 L509.5,455 L505,467 L502.2,470.2 L497.8,468.4 L493.3,464.4 L491.7,457.8 L492.3,436 Z"/>
<path d="M496.4,426.8 L496,440 L495.2,460.6" fill="none" stroke-width="1.4400000000000002"/>
<path d="M497.6,426.4 L497.2,460" fill="none" stroke="#666" stroke-width="1.08"/>
<path d="M493.6,465 Q495.5,469.5 501,470.6" fill="none" stroke-width="1.4400000000000002"/>
<path d="M500.2,434.8 L504.6,434.2 L504.8,449.6 L500.4,450.2 Z" fill="none" stroke-width="1.4400000000000002"/>
<path d="M501.6,435 L501.8,449.8" fill="none" stroke="#666" stroke-width="1.08"/>
<path d="M497.4,428.5 L505.6,431.7" fill="none" stroke-width="1.4400000000000002"/>
<path d="M497.4,430.3 L505.6,433.5" fill="none" stroke-width="1.4400000000000002"/>
<path d="M497.4,452.6 L505.6,455.8" fill="none" stroke-width="1.4400000000000002"/>
<path d="M497.4,455.2 L505.6,458.4" fill="none" stroke-width="1.4400000000000002"/>
<path d="M497.4,457.8 L505.6,461" fill="none" stroke-width="1.4400000000000002"/>
<path d="M497.4,460.4 L505.6,463.6" fill="none" stroke-width="1.4400000000000002"/>
<path d="M497.2,424.6 L508.4,421.4 L503,426.6 Z" fill="#555" stroke-width="1.26"/>
<path d="M506.7,417.3 L510.2,421.2 L511,425 L508.6,452 L507.2,455 L512,458 L521.2,455 L522.4,446 L521.4,441.8 L523.6,437.3 L526.2,423.1 L526.2,417.8 L522.7,413.3 Z"/>
<path d="M501.3,410.7 L517.8,406.7 L521.8,408.9 L522.7,413.3 L506.7,417.3 L501.8,414.7 Z"/>
<path d="M506.7,417.3 L505.2,412.2 L501.3,410.7" fill="none" stroke-width="1.4400000000000002"/>
<ellipse cx="516.8" cy="445.4" rx="4.6" ry="5.4"/>
<path d="M521.4,443.4 L531.6,444.2 L529.8,447.2 L521.6,446.4 Z"/>
<ellipse cx="517.8" cy="445.6" rx="2.2" ry="2.8" fill="none" stroke-width="1.4400000000000002"/>
<path d="M510.6,456.2 L514.5,453.8 L519.8,454.6 L521,458.6 L518,462.6 L513,464.2 L510,462 Z"/>
<path d="M512,457 L519,459.4 M511.4,460 L517.6,462.4" fill="none" stroke-width="1.26"/>
<path d="M506,459 L510,457.6 L511.4,461.4 L507.6,463.2 Z"/>
<path d="M501.3,465.8 L509.3,464 L510.7,470.6 L503.1,472.2 Z"/>
</g>
<g transform="translate(-463,-237)" stroke="#a2a2a2" stroke-width="1.4" fill="#fff" stroke-linejoin="round" stroke-linecap="round">
<path d="M489.2,425.6 L493.4,425 L494.6,429 L492.6,432.2 L489.4,431.6 L488.4,428.4 Z"/>
<path d="M494.2,425.8 L509.3,420.9 L509.5,455 L505,467 L502.2,470.2 L497.8,468.4 L493.3,464.4 L491.7,457.8 L492.3,436 Z"/>
<path d="M496.4,426.8 L496,440 L495.2,460.6" fill="none" stroke-width="1.1199999999999999"/>
<path d="M497.6,426.4 L497.2,460" fill="none" stroke="#cfcfcf" stroke-width="0.84"/>
<path d="M493.6,465 Q495.5,469.5 501,470.6" fill="none" stroke-width="1.1199999999999999"/>
<path d="M500.2,434.8 L504.6,434.2 L504.8,449.6 L500.4,450.2 Z" fill="none" stroke-width="1.1199999999999999"/>
<path d="M501.6,435 L501.8,449.8" fill="none" stroke="#cfcfcf" stroke-width="0.84"/>
<path d="M497.4,428.5 L505.6,431.7" fill="none" stroke-width="1.1199999999999999"/>
<path d="M497.4,430.3 L505.6,433.5" fill="none" stroke-width="1.1199999999999999"/>
<path d="M497.4,452.6 L505.6,455.8" fill="none" stroke-width="1.1199999999999999"/>
<path d="M497.4,455.2 L505.6,458.4" fill="none" stroke-width="1.1199999999999999"/>
<path d="M497.4,457.8 L505.6,461" fill="none" stroke-width="1.1199999999999999"/>
<path d="M497.4,460.4 L505.6,463.6" fill="none" stroke-width="1.1199999999999999"/>
<path d="M497.2,424.6 L508.4,421.4 L503,426.6 Z" fill="#c8c8c8" stroke-width="0.9799999999999999"/>
</g>
<polygon points="9.3,192.62 47.5,182.42 47.5,188.82 10.8,198.62" stroke="none" stroke-width="0" fill="#fff"/>
<line x1="9.3" y1="192.62" x2="47.5" y2="182.42" stroke="#a2a2a2" stroke-width="1.6" />
<line x1="10.8" y1="198.62" x2="47.5" y2="188.82" stroke="#a2a2a2" stroke-width="1.6" />
<path d="M10.8,198.62 Q9.5,198.94 9.4,196.94 L9.3,192.62" stroke="#a2a2a2" stroke-width="1.6" fill="none" />
<path d="M29.5,205.2 L19.4,207 Q17.2,207.6 17.4,209.6 Q17.8,211.8 20,211.6 L29.5,210" stroke="#a2a2a2" stroke-width="1.1" fill="#fff" />
<g transform="translate(-463,-237)" stroke="#a2a2a2" stroke-width="1.4" fill="#fff" stroke-linejoin="round" stroke-linecap="round">
<path d="M506.7,417.3 L510.2,421.2 L511,425 L508.6,452 L507.2,455 L512,458 L521.2,455 L522.4,446 L521.4,441.8 L523.6,437.3 L526.2,423.1 L526.2,417.8 L522.7,413.3 Z"/>
<path d="M501.3,410.7 L517.8,406.7 L521.8,408.9 L522.7,413.3 L506.7,417.3 L501.8,414.7 Z"/>
<path d="M506.7,417.3 L505.2,412.2 L501.3,410.7" fill="none" stroke-width="1.1199999999999999"/>
<ellipse cx="516.8" cy="445.4" rx="4.6" ry="5.4"/>
<path d="M521.4,443.4 L531.6,444.2 L529.8,447.2 L521.6,446.4 Z"/>
<ellipse cx="517.8" cy="445.6" rx="2.2" ry="2.8" fill="none" stroke-width="1.1199999999999999"/>
<path d="M510.6,456.2 L514.5,453.8 L519.8,454.6 L521,458.6 L518,462.6 L513,464.2 L510,462 Z"/>
<path d="M512,457 L519,459.4 M511.4,460 L517.6,462.4" fill="none" stroke-width="0.9799999999999999"/>
<path d="M506,459 L510,457.6 L511.4,461.4 L507.6,463.2 Z"/>
<path d="M501.3,465.8 L509.3,464 L510.7,470.6 L503.1,472.2 Z"/>
</g>
<g stroke="#1c1c1c" stroke-width="1.7" fill="#fff" stroke-linejoin="round" stroke-linecap="round">
<path d="M67.8,597.6 Q68,596.2 69.8,596.2 L75,596.4 Q76.4,596.6 76.4,598.4 L76.4,610.6 Q76.2,612.7 74.4,612.7 L67.8,612.7 Z"/>
<path d="M68.2,598.6 L76,599.2" fill="none" stroke-width="1"/>
<path d="M7.3,596.6 Q7.4,594.9 9.2,594.9 L14.4,594.9 Q15.9,595.2 15.9,597 L15.9,610.1 L9.2,610.1 Q7.3,610 7.3,608.2 Z"/>
<path d="M7.6,598.2 L15.6,599" fill="none" stroke-width="1"/>
<path d="M58,603.6 L66,603.6 Q67.8,604 67.8,606 L67.8,613 Q67.6,614.7 65.6,614.8 L60.5,615.4 L58,612 Z"/>
<path d="M17.9,607.6 Q18,606.1 19.8,606.1 L31,607.6 Q32.5,608 32.5,609.6 L32.5,618.4 L26,620.2 L19.6,618.6 Q17.9,618 17.9,616.4 Z"/>
<path d="M18.6,607.2 L25.4,608.8 L32,609.2 M25.4,608.8 L25.6,619.6" fill="none" stroke-width="1"/>
<path d="M32.5,609.4 L46,609.4 L46,620 L32.5,620 Z"/>
<path d="M46,609.4 L59,608.6 Q60.5,608.8 60.5,610.4 L60.5,619.6 Q60.2,621.4 58.4,621.4 L46,621.4 Z"/>
<path d="M47,611.2 L59.6,610.4" fill="none" stroke-width="1"/>
<path d="M13.9,581 L16,594.2 L17.2,601.5 Q30,608.6 45,608.8 Q58,607.4 66.5,600.8 L70.6,586 L45,578 Z"/>
<path d="M29.1,590.6 L52,596 L58.6,596.6 Q55,600 48,602.6 L45,606 Q36,607.5 29.1,607 Z" fill="#505050" stroke="none"/>
<path d="M29.4,592 L35.4,592.8" stroke="#2a2a2a" stroke-width="0.6" fill="none"/>
<path d="M29.4,594 L41.4,594.8" stroke="#2a2a2a" stroke-width="0.6" fill="none"/>
<path d="M29.4,596 L47.4,596.8" stroke="#2a2a2a" stroke-width="0.6" fill="none"/>
<path d="M29.4,598 L52,598.8" stroke="#2a2a2a" stroke-width="0.6" fill="none"/>
<path d="M29.4,600 L52,600.8" stroke="#2a2a2a" stroke-width="0.6" fill="none"/>
<path d="M29.4,602 L52,602.8" stroke="#2a2a2a" stroke-width="0.6" fill="none"/>
<path d="M29.4,604 L52,604.8" stroke="#2a2a2a" stroke-width="0.6" fill="none"/>
<path d="M29.4,606 L52,606.8" stroke="#2a2a2a" stroke-width="0.6" fill="none"/>
<path d="M48,601.6 Q50,599.2 58.6,597.4 L57,603 Z" fill="#fff" stroke-width="1.1"/>
<path d="M17.4,584.4 L21.2,583 L58,592.6 L57.6,596.6 L18.2,588.4 Z"/>
<path d="M29.1,590.2 L29.1,607" fill="none" stroke-width="1.2"/>
<path d="M57.9,597 Q56.6,593 62,588 Q67,584 71.2,583.6 Q72.6,586.4 68.6,591.6 Q63.4,597.6 57.9,597 Z"/>
<path d="M60.6,595.4 L69.6,586.2" fill="none" stroke-width="0.9"/>
<path d="M5.6,549.9 L9.9,548.6 L24.5,546.3 L40,549.6 L53.2,552.6 L54.6,554.6 L65.2,559.9 L68.5,557.2 L73.1,557.2 L75.1,559.2 L78.4,573.1 L77.1,584.4 L73.1,585.7 L71.1,583.6 L59.9,581 L45,577 L29.8,573.4 L17.9,570.5 L17.2,579.7 L11.9,579.7 L9.9,578.4 L7.3,566.5 Z" stroke-width="1.9"/>
<path d="M16,557.4 Q22,551.6 34,553.4 L50,556.6 Q60,560 64,566 Q61,572.4 50,572 L30,568.6 Q18,565 16,557.4 Z" stroke-width="2.4"/>
<path d="M28,561 Q36,556.4 49,559.8 Q58,563 60,566.4" fill="none" stroke-width="1.2"/>
<path d="M11.3,550.6 L13,558 L13.2,559.9 L29.8,571.8 L45,574.6 L59.9,579.7 L71.8,578.4 L74.4,571.8" fill="none" stroke-width="2.2"/>
<path d="M27,549 L36.4,549.8 L36.4,557.6 L27.4,557.9 Z" stroke-width="1.6"/>
<path d="M12,551 Q16,553.6 24,554 M40,550.2 L47.4,552.6 L46.8,556" fill="none" stroke-width="1.6"/>
<path d="M9.9,552 L11.6,570 L12.4,579" fill="none" stroke-width="1.1"/>
<path d="M62,567 L68,560 L73.5,560 L76.4,572.6 L71.6,578.2 L60,578 Z" fill="#3a3a3a" stroke-width="1.4"/>
<path d="M69,561.5 L72.4,561.5 L74.6,570.6 L70.6,575 Z" fill="#fff" stroke-width="1"/>
<path d="M63,570 L69,566 M62.6,575 L70,570" fill="none" stroke="#fff" stroke-width="0.9"/>
<path d="M14,560.6 L21.6,566.6 L27,570.6 L18.4,569.6 Z" fill="#2a2a2a" stroke-width="1.2"/>
<path d="M12.2,552.4 L18.6,549.8 L24,551 L17,553.4 Z" fill="#444" stroke-width="1"/>
</g>
<line x1="46.5" y1="403.3" x2="46.5" y2="435.8" stroke="#1c1c1c" stroke-width="1.1" />
<line x1="526.2" y1="435.7" x2="553.1" y2="435.7" stroke="#1c1c1c" stroke-width="1.1" />
<line x1="84" y1="604.4" x2="117.5" y2="604.4" stroke="#1c1c1c" stroke-width="1.1" />
<line x1="368.3" y1="566.2" x2="368.3" y2="621.2" stroke="#1c1c1c" stroke-width="1.1" />
</svg>
<svg style="position:absolute;left:0;top:0;will-change:transform" width="680" height="900" viewBox="0 0 680 900">
<text x="36.6" y="463.2" font-family="Liberation Sans, sans-serif" font-size="33.8" fill="#161616" stroke="#fff" stroke-width="0.25">2</text>
<text x="557.2" y="447.8" font-family="Liberation Sans, sans-serif" font-size="33.8" fill="#161616" stroke="#fff" stroke-width="0.25">3</text>
<path d="M133.9,593.4 L133.9,615.9 L131.1,615.9 L131.1,599.2 Q129.2,599.8 125.4,599.9 L125.4,597.7 Q130.2,597.3 131.4,593.4 Z" fill="#161616"/>
<text x="356.4" y="557.4" font-family="Liberation Sans, sans-serif" font-size="40" fill="#161616" stroke="#fff" stroke-width="0.25">4</text>
</svg></body></html>
